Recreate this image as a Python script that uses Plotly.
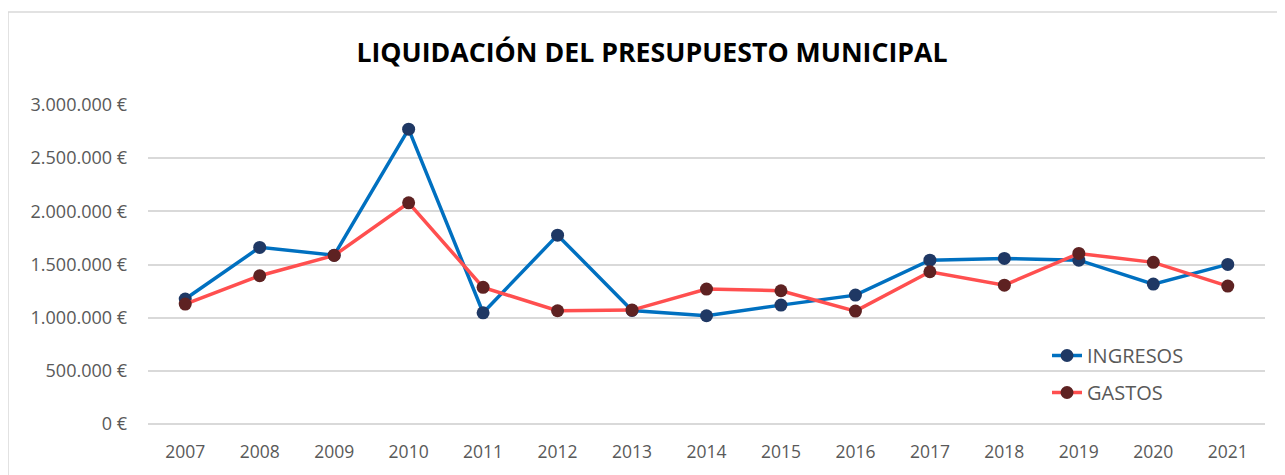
import plotly.graph_objects as go

years = ["2007", "2008", "2009", "2010", "2011", "2012", "2013", "2014",
         "2015", "2016", "2017", "2018", "2019", "2020", "2021"]
ingresos = [1175000, 1661000, 1588000, 2773000, 1046000, 1776000, 1068000, 1018000,
            1118000, 1212000, 1541000, 1557000, 1541000, 1316000, 1501000]
gastos = [1128000, 1394000, 1585000, 2080000, 1285000, 1065000, 1071000, 1269000,
          1253000, 1062000, 1432000, 1306000, 1604000, 1520000, 1297000]

title = "LIQUIDACIÓN DEL PRESUPUESTO MUNICIPAL"
font_family = "Open Sans"

fig = go.Figure()
fig.add_trace(go.Scatter(
    x=years, y=ingresos, name="INGRESOS", mode="lines+markers", legendgroup="a",
    line=dict(color="#0070C0", width=3.5),
    marker=dict(color="#1F3864", size=13),
))
fig.add_trace(go.Scatter(
    x=years, y=gastos, name="GASTOS", mode="lines+markers", legendgroup="b",
    line=dict(color="#FF4F4F", width=3.5),
    marker=dict(color="#5E2222", size=13),
))

OFF = 8  # page body margin
W, H = 1285 - OFF, 475 - OFF
# plot area in page coordinates: x 148..1265, y 105..424
L, R = 148 - OFF, 1285 - 1265
T, B = 105 - OFF, 475 - 424
pw, ph = W - L - R, H - T - B

def px(x):
    return (x - OFF - L) / pw

def py(y):
    return (H - B - (y - OFF)) / ph

fig.update_layout(
    width=W, height=H,
    margin=dict(l=L, r=R, t=T, b=B, autoexpand=False),
    paper_bgcolor="white", plot_bgcolor="white",
    separators=",.",
    font=dict(family=font_family, color="#595959", size=17),
    title=dict(text="<b>" + title + "</b>", x=(652 - OFF) / W, xanchor="center",
               y=1 - (53 - OFF) / H, yanchor="middle",
               font=dict(size=26.7, color="#000000", family=font_family)),
    showlegend=True,
    legend=dict(x=px(1047), y=py(336), xanchor="left", yanchor="top",
                font=dict(size=20, color="#595959"), bgcolor="rgba(0,0,0,0)",
                traceorder="grouped", tracegroupgap=8),
    shapes=[dict(type="rect", xref="paper", yref="paper",
                 x0=px(8), x1=px(1300), y0=py(490), y1=py(12),
                 line=dict(color="#D9D9D9", width=1.5), layer="below")],
)
fig.update_xaxes(range=[-0.5, len(years) - 0.5], showgrid=False, showline=False, ticks="",
                 tickfont=dict(size=17.5, color="#595959"), ticklabelstandoff=15)
fig.update_yaxes(range=[0, 3000000], dtick=500000, tickformat=",.0f", ticksuffix=" €",
                 showgrid=True, gridcolor="#D9D9D9", gridwidth=1.5, zeroline=True,
                 zerolinecolor="#D9D9D9", zerolinewidth=1.5, ticks="",
                 ticklabelstandoff=20, tickfont=dict(size=18, color="#595959"))

fig.write_html("out.html")
